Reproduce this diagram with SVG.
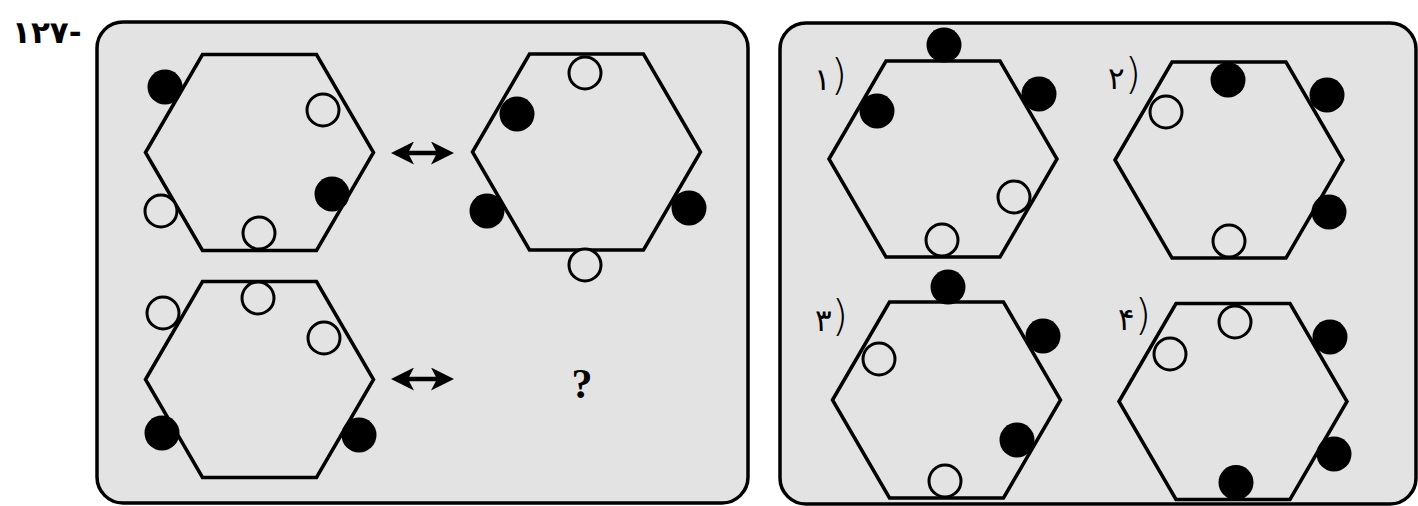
<svg xmlns="http://www.w3.org/2000/svg" xmlns:xlink="http://www.w3.org/1999/xlink" width="1418" height="506" viewBox="0 0 1418 506">
<style>
.panel{fill:#e3e3e3;stroke:#000;stroke-width:3.5}
.hex{fill:none;stroke:#000;stroke-width:3.5;stroke-linejoin:miter}
.b{fill:#000}
.w{fill:#e3e3e3;stroke:#000;stroke-width:3}
.arrow{stroke:#000;stroke-width:4.5;fill:none}
.lbl{font-family:"DejaVu Sans",sans-serif;font-size:31px;fill:#000;direction:ltr;unicode-bidi:bidi-override}
.par{font-size:42px;font-weight:200}
.num{font-family:"DejaVu Sans",sans-serif;font-size:31px;font-weight:bold;fill:#000;direction:ltr;unicode-bidi:bidi-override}
.q{font-family:"Liberation Serif",serif;font-size:42px;font-weight:bold;fill:#000}
</style>
<defs>
<polygon id="hexshape" points="-114,0 -57,-98 57,-98 114,0 57,98 -57,98"/>
<marker id="ah" viewBox="0 0 23 23" markerWidth="23" markerHeight="23" markerUnits="userSpaceOnUse" refX="13" refY="11.5" orient="auto-start-reverse">
<path d="M0,0 L23,11.5 L0,23 L6,11.5 Z" fill="#000"/>
</marker>
</defs>
<rect width="1418" height="506" fill="#ffffff"/>
<text class="num" x="12" y="43">۱۲۷-</text>
<rect class="panel" x="97" y="22" width="651" height="481" rx="26"/>
<rect class="panel" x="780" y="23" width="636" height="481" rx="26"/>

<g id="hex-a">
<use xlink:href="#hexshape" class="hex" x="259.5" y="152.5"/>
<circle class="b" cx="165" cy="87" r="17.5"/>
<circle class="w" cx="323" cy="110" r="16"/>
<circle class="b" cx="332" cy="194" r="17.5"/>
<circle class="w" cx="161" cy="211" r="16"/>
<circle class="w" cx="259" cy="233" r="16"/>
</g>
<g id="hex-b">
<use xlink:href="#hexshape" class="hex" x="586.5" y="152"/>
<circle class="w" cx="585" cy="73" r="16"/>
<circle class="b" cx="517" cy="114" r="17.5"/>
<circle class="b" cx="487" cy="211" r="17.5"/>
<circle class="b" cx="689" cy="208" r="17.5"/>
<circle class="w" cx="585" cy="265" r="16"/>
</g>
<g id="hex-c">
<use xlink:href="#hexshape" class="hex" x="259.5" y="379.5"/>
<circle class="w" cx="163" cy="313" r="16"/>
<circle class="w" cx="258" cy="298" r="16"/>
<circle class="w" cx="324" cy="338" r="16"/>
<circle class="b" cx="162" cy="433" r="17.5"/>
<circle class="b" cx="359" cy="435" r="17.5"/>
</g>
<g id="question">
<text class="q" x="582" y="398" text-anchor="middle">?</text>
</g>

<g id="option-1">
<use xlink:href="#hexshape" class="hex" x="943" y="159"/>
<circle class="b" cx="944" cy="45" r="17.5"/>
<circle class="b" cx="1039" cy="94" r="17.5"/>
<circle class="b" cx="877" cy="111" r="17.5"/>
<circle class="w" cx="1014" cy="197" r="16"/>
<circle class="w" cx="942" cy="240" r="16"/>
<text class="lbl" x="814" y="90">۱<tspan class="par">)</tspan></text>
</g>
<g id="option-2">
<use xlink:href="#hexshape" class="hex" x="1229" y="160"/>
<circle class="w" cx="1166" cy="112" r="16"/>
<circle class="b" cx="1228" cy="80" r="17.5"/>
<circle class="b" cx="1327" cy="95" r="17.5"/>
<circle class="b" cx="1329" cy="212" r="17.5"/>
<circle class="w" cx="1229" cy="241" r="16"/>
<text class="lbl" x="1108" y="89">۲<tspan class="par">)</tspan></text>
</g>
<g id="option-3">
<use xlink:href="#hexshape" class="hex" x="946.5" y="400"/>
<circle class="b" cx="948" cy="287" r="17.5"/>
<circle class="b" cx="1043" cy="336" r="17.5"/>
<circle class="w" cx="879" cy="359" r="16"/>
<circle class="b" cx="1017" cy="440" r="17.5"/>
<circle class="w" cx="945" cy="481" r="16"/>
<text class="lbl" x="815" y="331">۳<tspan class="par">)</tspan></text>
</g>
<g id="option-4">
<use xlink:href="#hexshape" class="hex" x="1233" y="401.5"/>
<circle class="w" cx="1235" cy="322" r="16"/>
<circle class="w" cx="1170" cy="354" r="16"/>
<circle class="b" cx="1330" cy="337" r="17.5"/>
<circle class="b" cx="1334" cy="454" r="17.5"/>
<circle class="b" cx="1236" cy="482.5" r="17.5"/>
<text class="lbl" x="1118" y="330">۴<tspan class="par">)</tspan></text>
</g>

<g id="connectors">
<line class="arrow" x1="401" y1="153" x2="444" y2="153" marker-start="url(#ah)" marker-end="url(#ah)"/>
<line class="arrow" x1="401" y1="379" x2="444" y2="379" marker-start="url(#ah)" marker-end="url(#ah)"/>
</g>
</svg>
